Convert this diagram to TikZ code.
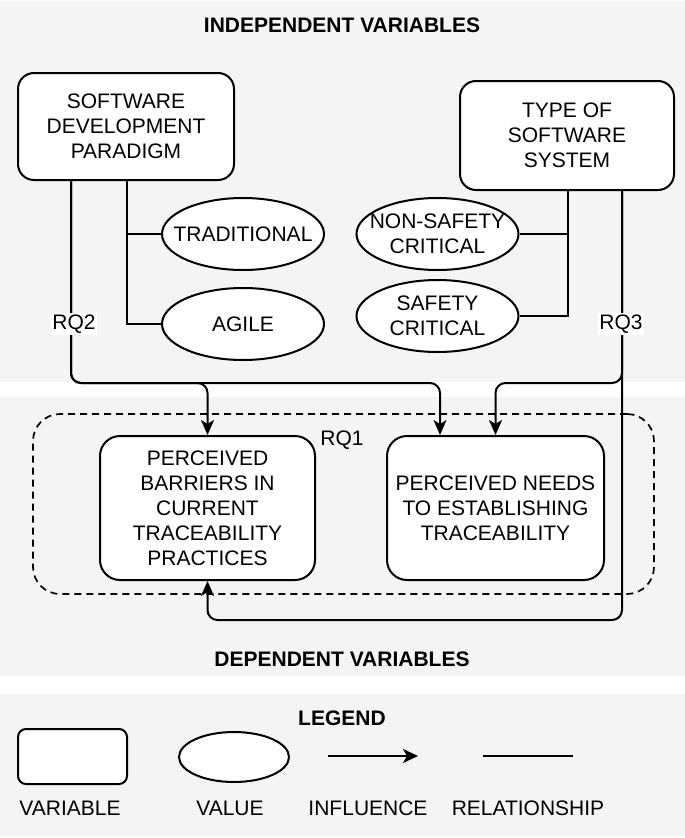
\documentclass[tikz,border=0pt]{standalone}
\usepackage{fontspec}
\setmainfont{Liberation Sans}
\usetikzlibrary{shapes.geometric,arrows.meta}
\definecolor{panel}{HTML}{F4F4F4}
\begin{document}
\begin{tikzpicture}[x=1pt,y=-1pt,line width=2pt,
  font=\fontsize{21}{25}\selectfont,
  varbox/.style={draw,fill=white,rounded corners=#1,align=center,inner sep=0pt},
  valbox/.style={draw,fill=white,ellipse,minimum width=162pt,minimum height=72pt,inner sep=0pt},
  infl/.style={-{Stealth[length=15pt,width=13pt,inset=4pt]},rounded corners=10pt},
  rq/.style={fill=white,inner sep=1.5pt},
  ttl/.style={font=\fontsize{21}{25}\selectfont\bfseries},
  txt/.style={align=center,inner sep=0pt}]
\useasboundingbox (0,0) rectangle (685,838);
\fill[white] (0,0) rectangle (685,838);
% panels
\fill[panel] (0,1) rectangle (685,382);
\fill[panel] (0,397) rectangle (685,676);
\fill[panel] (0,694) rectangle (685,836);
% titles
\node[ttl] (tind) at (342,25) {INDEPENDENT VARIABLES};
\node[ttl] (tdep) at (342,659) {DEPENDENT VARIABLES};
\node[ttl] (tleg) at (342,718) {LEGEND};
% RQ1 group
\node[draw,dash pattern=on 7pt off 5pt,line width=1.7pt,rounded corners=27pt,
  minimum width=621pt,minimum height=180pt,inner sep=0pt] (grp) at (343.5,504) {};
\node (rq1) at (342,440) {RQ1};
% variables
\node[varbox=16pt,minimum width=216pt,minimum height=107pt] (sdp) at (126,126.5)
  {SOFTWARE\\DEVELOPMENT\\PARADIGM};
\node[varbox=16pt,minimum width=214pt,minimum height=109pt] (tss) at (567,135.5)
  {TYPE OF\\SOFTWARE\\SYSTEM};
\node[varbox=20pt,minimum width=215pt,minimum height=144pt] (barr) at (207.5,508)
  {PERCEIVED\\BARRIERS IN\\CURRENT\\TRACEABILITY\\PRACTICES};
\node[varbox=20pt,minimum width=217pt,minimum height=144pt] (needs) at (495.5,508)
  {PERCEIVED NEEDS\\TO ESTABLISHING\\TRACEABILITY};
% values
\node[valbox] (trad) at (243,234) {};
\node[txt] (tradT) at (trad) {TRADITIONAL};
\node[valbox] (agile) at (243,324) {};
\node[txt] (agileT) at (agile) {AGILE};
\node[valbox] (nons) at (437.5,234) {};
\node[txt] (nonsT) at (nons) {NON-SAFETY\\CRITICAL};
\node[valbox] (safe) at (437.5,316) {};
\node[txt] (safeT) at (safe) {SAFETY\\CRITICAL};
% helper coordinates
\coordinate (yl) at (0,383);
\coordinate (yb) at (0,620);
\coordinate (sdpA) at ([xshift=54pt]sdp.south west);
\coordinate (sdpB) at ([xshift=1pt]sdp.south);
\coordinate (tssA) at ([xshift=-53pt]tss.south east);
\coordinate (tssB) at ([xshift=1pt]tss.south);
\coordinate (needsL) at ([xshift=54pt]needs.north west);
% relationships
\draw (sdpB) -- (sdpB |- agile.west) -- (agile.west);
\draw (sdpB |- trad.west) -- (trad.west);
\draw (tssB) -- (tssB |- safe.east) -- (safe.east);
\draw (tssB |- nons.east) -- (nons.east);
% influences
\draw[infl] (sdpA) -- (sdpA |- yl) -- (barr.north |- yl) -- (barr.north);
\draw[infl] (sdpA) -- (sdpA |- yl) -- (needsL |- yl) -- (needsL);
\draw[infl] (tssA) -- (tssA |- yl) -- (needs.north |- yl) -- (needs.north);
\draw[infl] (tssA) -- (tssA |- yb) -- (barr.south |- yb) -- (barr.south);
\node[rq] (rq2) at (74,324) {RQ2};
\node[rq] (rq3) at (621,324) {RQ3};
% legend
\node[varbox=8pt,minimum width=109pt,minimum height=55pt] (lvar) at (72.5,756.5) {};
\node[draw,fill=white,ellipse,minimum width=110pt,minimum height=50pt,inner sep=0pt] (lval) at (234,757) {};
\coordinate (la1) at (328,756);
\coordinate (la2) at (418,756);
\draw[-{Stealth[length=15pt,width=14pt,inset=4pt]}] (la1) -- (la2);
\coordinate (lr1) at (483,756);
\coordinate (lr2) at (573,756);
\draw (lr1) -- (lr2);
\node (tvar) at (70,808) {VARIABLE};
\node (tval) at (230,808) {VALUE};
\node (tinf) at (368,808) {INFLUENCE};
\node (trel) at (528,808) {RELATIONSHIP};
\end{tikzpicture}
\end{document}
